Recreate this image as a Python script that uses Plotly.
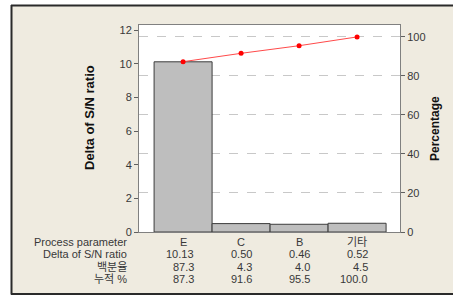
import plotly.graph_objects as go

categories = ["E", "C", "B", "기타"]
delta_sn = [10.13, 0.50, 0.46, 0.52]
percent = [87.3, 4.3, 4.0, 4.5]
cumulative = [87.3, 91.6, 95.5, 100.0]
row_labels = ["Process parameter", "Delta of S/N ratio", "백분율", "누적 %"]
left_ticks = [0, 2, 4, 6, 8, 10, 12]
right_ticks = [0, 20, 40, 60, 80, 100]

W, H = 453, 296
L, R, T, B = 139, 400, 25, 232
pw, ph = R - L, B - T

def px(x):
    return (x - L) / pw

def py(y):
    return (B - y) / ph

FONT = "Liberation Sans, Arial, Noto Sans CJK KR, sans-serif"
TXT = "#383838"

xs = list(range(len(categories)))
total = sum(delta_sn)
ymax = 12.32

fig = go.Figure()
fig.add_trace(go.Bar(x=xs, y=delta_sn, width=1.0,
                     marker=dict(color="#bebebe", line=dict(color="#3c3c3c", width=1)),
                     yaxis="y", showlegend=False, hoverinfo="skip"))
fig.add_trace(go.Scatter(x=xs, y=cumulative, mode="lines+markers",
                         line=dict(color="#ff4a4a", width=1),
                         marker=dict(color="#ff0000", size=5),
                         yaxis="y2", showlegend=False, hoverinfo="skip"))

ann = []
rows = [categories,
        [f"{v:.2f}" for v in delta_sn],
        [f"{v:.1f}" for v in percent],
        [f"{v:.1f}" for v in cumulative]]
row_y = [241.5, 254, 266.5, 278.5]
for r, (lab, vals, yy) in enumerate(zip(row_labels, rows, row_y)):
    ann.append(dict(text=lab, xref="paper", yref="paper", x=px(129), y=py(yy),
                    xanchor="right", yanchor="middle", showarrow=False,
                    font=dict(size=11, color=TXT, family=FONT)))
    for i, v in enumerate(vals):
        if r == 0:
            ann.append(dict(text=v, xref="x", yref="paper", x=i, y=py(yy),
                            xanchor="center", yanchor="middle", showarrow=False,
                            font=dict(size=11, color=TXT, family=FONT)))
        else:
            ann.append(dict(text=v, xref="x", yref="paper", x=i, y=py(yy),
                            xanchor="right", yanchor="middle", showarrow=False, xshift=13,
                            font=dict(size=11, color=TXT, family=FONT)))

ann.append(dict(text="<b>Delta of S/N ratio</b>", xref="paper", yref="paper",
                x=px(89), y=py(118), textangle=-90, showarrow=False,
                xanchor="center", yanchor="middle",
                font=dict(size=13, color="#111111", family=FONT)))
ann.append(dict(text="<b>Percentage</b>", xref="paper", yref="paper",
                x=px(435), y=py(129), textangle=-90, showarrow=False,
                xanchor="center", yanchor="middle",
                font=dict(size=12, color="#111111", family=FONT)))

shapes = [
    dict(type="rect", xref="paper", yref="paper", x0=px(-5), x1=px(11), y0=py(300), y1=py(-5),
         fillcolor="white", line=dict(width=0), layer="below"),
    dict(type="rect", xref="paper", yref="paper", x0=px(-5), x1=px(460), y0=py(5), y1=py(-5),
         fillcolor="white", line=dict(width=0), layer="below"),
    dict(type="rect", xref="paper", yref="paper", x0=px(-5), x1=px(460), y0=py(300), y1=py(295),
         fillcolor="white", line=dict(width=0), layer="below"),
    dict(type="line", xref="paper", yref="paper", x0=px(11.5), x1=px(11.5), y0=py(5), y1=py(294.5),
         line=dict(color="#2a2a2a", width=2)),
    dict(type="line", xref="paper", yref="paper", x0=px(11), x1=px(460), y0=py(5.5), y1=py(5.5),
         line=dict(color="#2a2a2a", width=2)),
    dict(type="line", xref="paper", yref="paper", x0=px(11), x1=px(460), y0=py(294), y1=py(294),
         line=dict(color="#2a2a2a", width=2)),
]

fig.update_layout(
    width=W, height=H,
    margin=dict(l=L, r=W - R, t=T, b=H - B, pad=0),
    paper_bgcolor="#efebe0", plot_bgcolor="white",
    font=dict(family=FONT, size=11, color=TXT),
    bargap=0,
    hovermode=False,
    xaxis=dict(range=[-0.76, 3.74], showticklabels=False, ticks="", showgrid=False,
               zeroline=False, showline=True, linecolor="#808080", linewidth=1, mirror=True),
    yaxis=dict(range=[0, ymax], tickvals=left_ticks, ticks="outside", ticklen=4,
               tickcolor="#606060", showgrid=False, zeroline=False, showline=True,
               linecolor="#808080", linewidth=1, tickfont=dict(size=11, color=TXT)),
    yaxis2=dict(range=[0, ymax / total * 100], tickvals=right_ticks, overlaying="y", side="right",
                ticks="outside", ticklen=4, tickcolor="#606060", showgrid=True,
                gridcolor="#c8c8c8", griddash="dash", gridwidth=1, zeroline=False,
                showline=True, linecolor="#808080", linewidth=1,
                tickfont=dict(size=11, color=TXT)),
    annotations=ann, shapes=shapes,
)

fig.write_html("out.html", config={"displayModeBar": False, "staticPlot": True},
               post_script="document.body.style.margin='0';document.body.style.padding='0';document.body.style.overflow='hidden';")
